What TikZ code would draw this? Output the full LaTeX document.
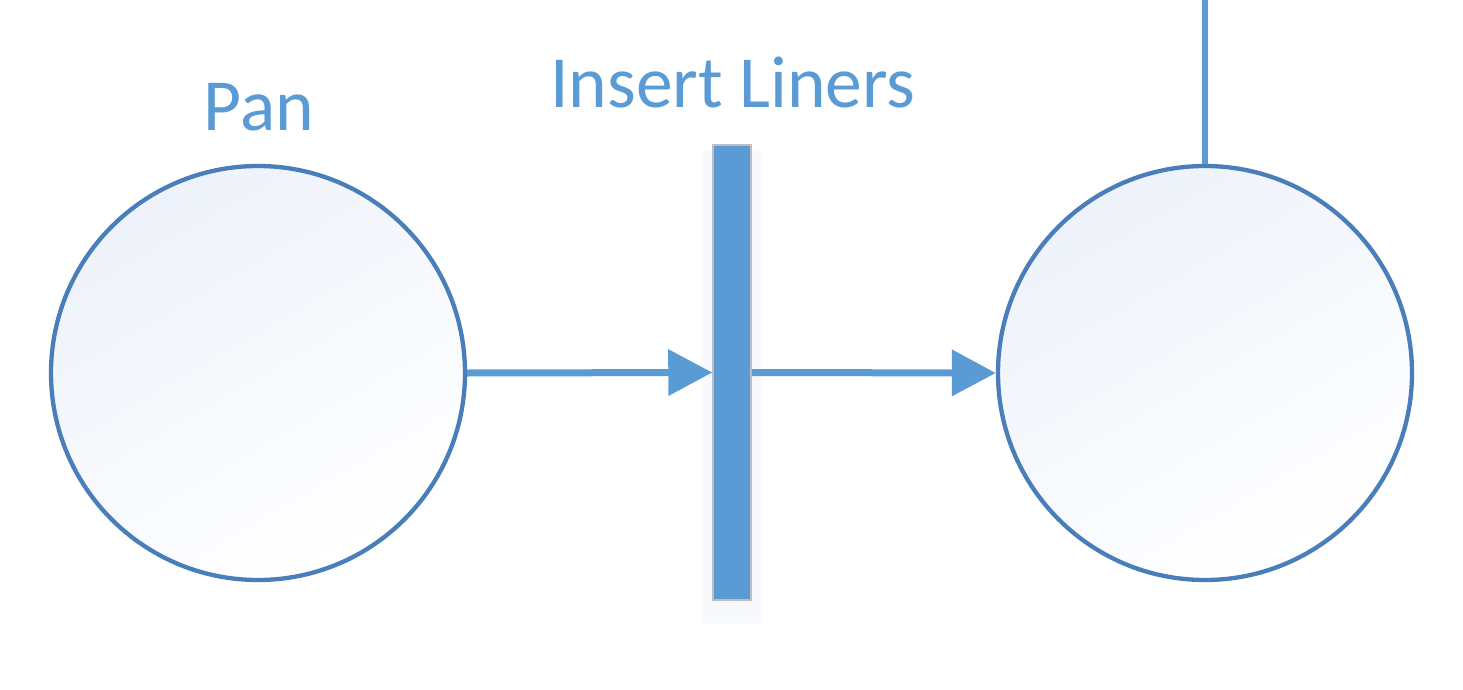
\documentclass[tikz,border=0pt]{standalone}
\usepackage{fontspec}
\setmainfont{Carlito}
\usetikzlibrary{arrows.meta}
\begin{document}
\begin{tikzpicture}[x=1pt,y=-1pt,
  ball/.style={circle,draw=ringblue,line width=4.3pt,minimum size=414pt,inner sep=0pt,
    shading=axis,top color=shadeblue,bottom color=white,shading angle=30},
  conn/.style={draw=lineblue,line width=7pt,-{Triangle[length=44pt,width=45pt]}},
  lbl/.style={text=lineblue,font=\fontsize{73.5}{80}\selectfont,inner sep=0pt,anchor=base}]
\definecolor{ringblue}{HTML}{4A7EBB}
\definecolor{lineblue}{HTML}{5B9BD5}
\definecolor{shadeblue}{HTML}{EEF2FA}
\definecolor{glow}{HTML}{F4F7FC}
\definecolor{barframe}{HTML}{BFBFBF}
\useasboundingbox (0,0) rectangle (1463,690);
\fill[white] (0,0) rectangle (1463,690);
% circles
\node[ball] (pan) at (258,373) {};
\node[ball] (out) at (1205,373) {};
% bar glow
\fill[glow,opacity=0.5] (702,150) rectangle (762,624);
\fill[glow,opacity=0.6] (706,150) rectangle (758,614);
% bar
\node[draw=barframe,line width=1.5pt,fill=lineblue,minimum width=38pt,minimum height=455pt,inner sep=0pt] (bar) at (732,372.5) {};
% connectors
\draw[conn] (pan.east) -- (bar.west);
\draw[conn] (bar.east) -- (out.west);
\coordinate (top) at (1205,0);
\draw[draw=lineblue,line width=6pt] (top) -- (out.north);
% labels
\node[lbl] (panlbl) at (259,131) {Pan};
\node[lbl] (barlbl) at (733,108) {Insert Liners};
\end{tikzpicture}
\end{document}
